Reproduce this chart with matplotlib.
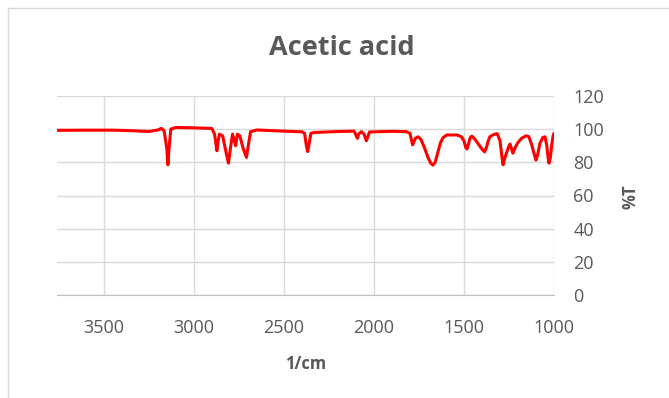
"""
IR spectrum of acetic acid (transmittance vs wavenumber), Excel-like look.
"""

import matplotlib
matplotlib.use('Agg')
import matplotlib.pyplot as plt
from matplotlib.lines import Line2D

# ==========================================
# DATA
# ==========================================
WAVENUMBER = [
    3760, 3600, 3450, 3350, 3250, 3200, 3180, 3165, 3150, 3144, 3138, 3128,
    3100, 3000, 2900, 2885, 2872, 2865, 2858, 2840, 2825, 2808, 2795, 2785,
    2775, 2768, 2758, 2745, 2725, 2708, 2695, 2685, 2650, 2500, 2400, 2385,
    2375, 2368, 2360, 2350, 2330, 2200, 2110, 2098, 2092, 2085, 2070, 2055,
    2042, 2035, 2025, 1900, 1820, 1800, 1785, 1770, 1755, 1740, 1720, 1700,
    1685, 1672, 1660, 1645, 1630, 1615, 1595, 1540, 1515, 1500, 1490, 1483,
    1475, 1465, 1456, 1440, 1420, 1400, 1385, 1375, 1365, 1356, 1330, 1315,
    1300, 1290, 1283, 1275, 1261, 1250, 1244, 1235, 1228, 1215, 1200, 1180,
    1155, 1140, 1125, 1110, 1100, 1090, 1078, 1062, 1050, 1040, 1033, 1028,
    1020, 1012, 1005, 1000,
]
TRANSMITTANCE = [
    99.3, 99.4, 99.4, 99.1, 98.6, 99.5, 100.5, 99.0, 88.0, 78.5, 88.0, 100.0,
    101.0, 100.8, 100.4, 97.0, 87.0, 93.0, 97.0, 96.0, 88.0, 79.5, 90.0, 97.0,
    93.0, 90.0, 97.0, 96.0, 88.0, 83.0, 92.0, 98.5, 99.5, 98.8, 98.4, 97.5,
    90.0, 86.5, 91.0, 97.5, 98.0, 98.6, 98.8, 96.0, 94.5, 97.0, 98.5, 97.0,
    93.0, 95.0, 98.3, 98.7, 98.5, 97.5, 90.5, 94.5, 95.4, 94.0, 89.0, 83.0,
    79.5, 78.3, 80.0, 86.0, 92.0, 95.0, 96.5, 96.5, 95.5, 93.0, 89.0, 88.0,
    91.0, 95.0, 95.8, 94.0, 91.0, 88.0, 86.3, 89.0, 93.0, 95.5, 97.0, 97.3,
    93.0, 84.0, 78.5, 82.0, 86.5, 90.0, 91.0, 88.0, 85.5, 89.0, 92.0, 94.5,
    96.0, 95.5, 91.0, 85.0, 81.3, 85.0, 91.5, 95.0, 95.4, 90.0, 83.0, 79.5,
    83.0, 91.0, 96.0, 97.5,
]
X_TICKS = [3500, 3000, 2500, 2000, 1500, 1000]
Y_TICKS = [0, 20, 40, 60, 80, 100, 120]

TITULO = 'Acetic acid'
X_LABEL = '1/cm'
Y_LABEL = '%T'

TEXT_COLOR = '#595959'
GRID_COLOR = '#d9d9d9'
FONT = ['Open Sans', 'DejaVu Sans']


def main():
    plt.rcParams['font.family'] = FONT
    fig = plt.figure(figsize=(6.69, 3.98), dpi=100)

    # borde del area del grafico (sale del recorte por derecha y abajo)
    W, H = 669.0, 398.0
    fig.add_artist(Line2D([8 / W, 1], [1 - 8 / H, 1 - 8 / H], color=GRID_COLOR, lw=1))
    fig.add_artist(Line2D([8 / W, 8 / W], [0, 1 - 8 / H], color=GRID_COLOR, lw=1))

    ax = fig.add_axes([57 / W, (H - 295) / H, (554 - 57) / W, 199 / H])
    ax.plot(WAVENUMBER, TRANSMITTANCE, color='#ff0000', linewidth=2.2,
            solid_joinstyle='round', solid_capstyle='round', zorder=3)

    ax.set_xlim(3760, 1000)
    ax.set_ylim(0, 120)
    ax.set_xticks(X_TICKS)
    ax.set_yticks(Y_TICKS)

    ax.yaxis.tick_right()
    ax.yaxis.set_label_position('right')
    ax.tick_params(axis='both', length=0, labelsize=13, labelcolor=TEXT_COLOR)
    ax.tick_params(axis='x', pad=17)
    ax.tick_params(axis='y', pad=14)
    for lbl in ax.get_yticklabels():
        lbl.set_horizontalalignment('left')

    ax.grid(True, color=GRID_COLOR, linewidth=1)
    ax.set_axisbelow(True)
    for side in ['left', 'top', 'right']:
        ax.spines[side].set_visible(False)
    ax.spines['bottom'].set_color('#bfbfbf')

    # titulo centrado en el area del grafico, no en el area de trazado
    fig.text(342 / W, 1 - 48 / H, TITULO, fontsize=19.5, fontweight='bold',
             color=TEXT_COLOR, ha='center', va='center')
    fig.text(306 / W, 1 - 364 / H, X_LABEL, fontsize=12, fontweight='bold',
             color=TEXT_COLOR, ha='center', va='center')
    fig.text(631 / W, 1 - 197 / H, Y_LABEL, fontsize=12, fontweight='bold',
             color=TEXT_COLOR, ha='center', va='center', rotation=90)

    fig.savefig('out.png', dpi=100)
    plt.close(fig)


if __name__ == "__main__":
    main()
